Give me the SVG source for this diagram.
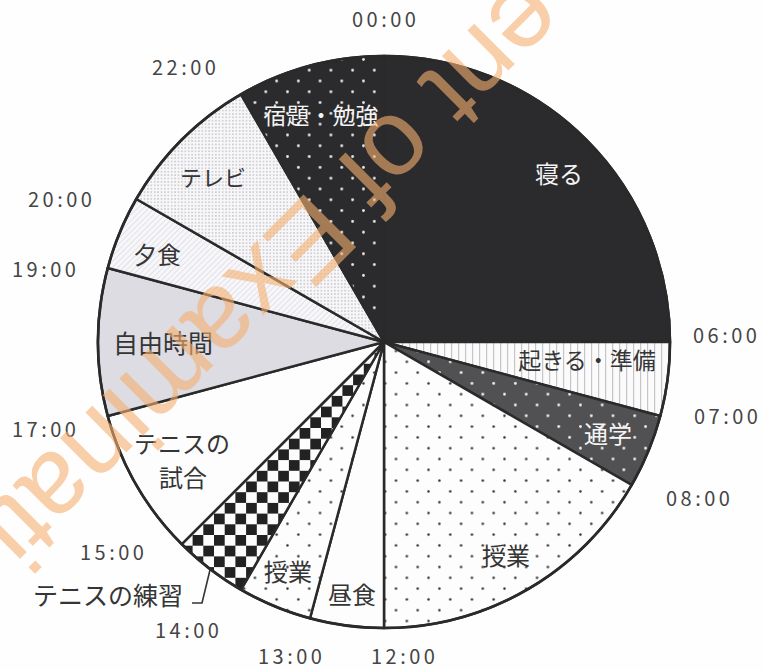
<svg xmlns="http://www.w3.org/2000/svg" width="763" height="670" viewBox="0 0 763 670">
<style>
.w{stroke:#2a2a2a;stroke-width:2.5;stroke-linejoin:round}
.t{font-family:"Noto Sans CJK JP","Noto Sans",sans-serif;font-size:20px;letter-spacing:3.5px;fill:#454545}
.l{font-family:"Noto Sans CJK JP",sans-serif;font-size:24px;fill:#353535;text-anchor:middle}
.lw{fill:#f4f4f4}
.wm{font-family:"Liberation Sans",Arial,sans-serif;font-size:108px;fill:#f5b070}
</style>
<defs>
<pattern id="pDotsB" width="21.7" height="21.6" patternUnits="userSpaceOnUse">
<rect width="21.7" height="21.6" fill="#fdfdfd"/>
<circle cx="5.4" cy="5.4" r="1.25" fill="#303030"/>
<circle cx="16.25" cy="16.2" r="1.25" fill="#303030"/>
</pattern>
<pattern id="pDotsW" width="21.7" height="21.6" patternUnits="userSpaceOnUse">
<rect width="21.7" height="21.6" fill="#2b2b2d"/>
<circle cx="5.4" cy="5.4" r="1.4" fill="#ececec"/>
<circle cx="16.25" cy="16.2" r="1.4" fill="#ececec"/>
</pattern>
<pattern id="pDotsG" width="21.7" height="21.6" patternUnits="userSpaceOnUse">
<rect width="21.7" height="21.6" fill="#515153"/>
<circle cx="5.4" cy="5.4" r="1.4" fill="#f0f0f0"/>
<circle cx="16.25" cy="16.2" r="1.4" fill="#f0f0f0"/>
</pattern>
<pattern id="pChecker" width="21.4" height="21.4" patternUnits="userSpaceOnUse">
<rect width="21.4" height="21.4" fill="#fcfcfc"/>
<rect width="10.7" height="10.7" fill="#222"/>
<rect x="10.7" y="10.7" width="10.7" height="10.7" fill="#222"/>
</pattern>
<pattern id="pFine" width="3.4" height="3.4" patternUnits="userSpaceOnUse">
<rect width="3.4" height="3.4" fill="#f7f7f9"/>
<circle cx="1.7" cy="1.7" r="0.7" fill="#a0a0a8"/>
</pattern>
<pattern id="pHatch" width="4" height="4" patternUnits="userSpaceOnUse" patternTransform="rotate(45)">
<rect width="4" height="4" fill="#f7f7fa"/>
<rect width="1" height="4" fill="#e1e1e9"/>
</pattern>
<pattern id="pVert" width="7" height="10" patternUnits="userSpaceOnUse">
<rect width="7" height="10" fill="#fbfbfb"/>
<rect x="3" width="1.2" height="10" fill="#c6c6ca"/>
</pattern>
</defs>
<rect width="763" height="670" fill="#fefefe"/>
<g id="slice-neru">
<path class="w" d="M384,342 L384,56 A286,286 0 0 1 670,342 Z" fill="#2b2b2d"/>
<text class="l lw" x="559" y="183">寝る</text>
</g>
<g id="slice-okiru">
<path class="w" d="M384,342 L670,342 A286,286 0 0 1 660.3,416 Z" fill="url(#pVert)"/>
<text class="l" x="587" y="369" style="font-size:23px">起きる・準備</text>
</g>
<g id="slice-tsugaku">
<path class="w" d="M384,342 L660.3,416 A286,286 0 0 1 631.7,485 Z" fill="url(#pDotsG)"/>
<text class="l lw" x="608" y="443">通学</text>
</g>
<g id="slice-jugyo1">
<path class="w" d="M384,342 L631.7,485 A286,286 0 0 1 384,628 Z" fill="url(#pDotsB)"/>
<text class="l" x="506" y="565">授業</text>
</g>
<g id="slice-chushoku">
<path class="w" d="M384,342 L384,628 A286,286 0 0 1 310,618.3 Z" fill="#fdfdfd"/>
<text class="l" x="352" y="604">昼食</text>
</g>
<g id="slice-jugyo2">
<path class="w" d="M384,342 L310,618.3 A286,286 0 0 1 241,589.7 Z" fill="url(#pDotsB)"/>
<text class="l" x="288" y="581">授業</text>
</g>
<g id="slice-renshu">
<path class="w" d="M384,342 L241,589.7 A286,286 0 0 1 181.8,544.2 Z" fill="url(#pChecker)"/>
<text class="l" x="108" y="605" style="font-size:25px">テニスの練習</text>
</g>
<g id="slice-shiai">
<path class="w" d="M384,342 L181.8,544.2 A286,286 0 0 1 107.7,416 Z" fill="#fdfdfd"/>
<text class="l" x="182" y="453">テニスの</text>
<text class="l" x="183" y="487">試合</text>
</g>
<g id="slice-jiyu">
<path class="w" d="M384,342 L107.7,416 A286,286 0 0 1 107.7,268 Z" fill="#dcdce2"/>
<text class="l" x="163" y="353" style="font-size:25px">自由時間</text>
</g>
<g id="slice-yushoku">
<path class="w" d="M384,342 L107.7,268 A286,286 0 0 1 136.3,199 Z" fill="url(#pHatch)"/>
<text class="l" x="157" y="264">夕食</text>
</g>
<g id="slice-terebi">
<path class="w" d="M384,342 L136.3,199 A286,286 0 0 1 241,94.3 Z" fill="url(#pFine)"/>
<text class="l" x="213" y="186" style="font-size:22px">テレビ</text>
</g>
<g id="slice-shukudai">
<path class="w" d="M384,342 L241,94.3 A286,286 0 0 1 384,56 Z" fill="url(#pDotsW)"/>
<text class="l lw" x="321" y="124" style="font-size:23px">宿題・勉強</text>
</g>
<circle cx="384" cy="342" r="286" fill="none" stroke="#2a2a2a" stroke-width="2.6"/>
<g id="connectors">
<path d="M192,603 L202,603 L210,570" fill="none" stroke="#333" stroke-width="1.6"/>
</g>
<g id="time-labels">
<text class="t" x="352" y="27">00:00</text>
<text class="t" x="152" y="75">22:00</text>
<text class="t" x="28" y="207">20:00</text>
<text class="t" x="12" y="277">19:00</text>
<text class="t" x="12" y="437">17:00</text>
<text class="t" x="80" y="560">15:00</text>
<text class="t" x="155" y="638">14:00</text>
<text class="t" x="258" y="664">13:00</text>
<text class="t" x="371" y="664">12:00</text>
<text class="t" x="666" y="506">08:00</text>
<text class="t" x="694" y="424">07:00</text>
<text class="t" x="693" y="343">06:00</text>
</g>
<g id="watermark" opacity="0.6">
<text class="wm" transform="translate(522,-24) rotate(135)">ent of Examinati</text>
</g>
</svg>
